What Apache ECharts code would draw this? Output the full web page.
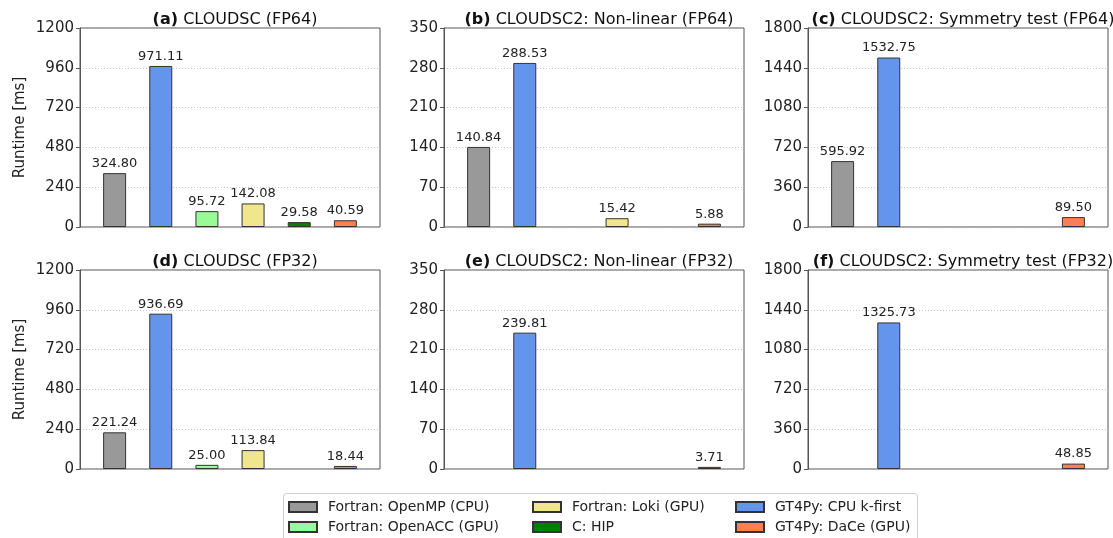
<!DOCTYPE html>
<html>
<head>
<meta charset="utf-8">
<script src="https://cdn.jsdelivr.net/npm/echarts@6/dist/echarts.min.js"></script>
<style>
html,body{margin:0;padding:0;background:#fff;}
#chart{width:1113px;height:538px;}
</style>
</head>
<body>
<div id="chart"></div>
<script>
// Methods in bar order (x positions 0..5)
const methods = ['Fortran: OpenMP (CPU)', 'GT4Py: CPU k-first', 'Fortran: OpenACC (GPU)', 'Fortran: Loki (GPU)', 'C: HIP', 'GT4Py: DaCe (GPU)'];
const methodColors = ['#999999', '#6495ED', '#98FB98', '#F0E68C', '#008000', '#FF7F50'];

// Runtime values [ms] per panel (null = no bar)
const cloudscFP64    = [324.80, 971.11, 95.72, 142.08, 29.58, 40.59];
const nonlinearFP64  = [140.84, 288.53, null, 15.42, null, 5.88];
const symmetryFP64   = [595.92, 1532.75, null, null, null, 89.50];
const cloudscFP32    = [221.24, 936.69, 25.00, 113.84, null, 18.44];
const nonlinearFP32  = [null, 239.81, null, null, null, 3.71];
const symmetryFP32   = [null, 1325.73, null, null, null, 48.85];

const panelTags   = ['(a)', '(b)', '(c)', '(d)', '(e)', '(f)'];
const panelTitles = ['CLOUDSC (FP64)', 'CLOUDSC2: Non-linear (FP64)', 'CLOUDSC2: Symmetry test (FP64)',
                     'CLOUDSC (FP32)', 'CLOUDSC2: Non-linear (FP32)', 'CLOUDSC2: Symmetry test (FP32)'];
const yMaxes     = [1200, 350, 1800, 1200, 350, 1800];
const yIntervals = [240, 70, 360, 240, 70, 360];
const yAxisName  = 'Runtime [ms]';

// Legend columns (column-major as in the reference)
const legendCols = [
  [methods[0], methods[2]],
  [methods[3], methods[4]],
  [methods[1], methods[5]]
];

const panels = [cloudscFP64, nonlinearFP64, symmetryFP64, cloudscFP32, nonlinearFP32, symmetryFP32];

const FONT = 'DejaVu Sans';
const gridLefts = [80, 444, 808];
const gridTops = [28, 270];
const GW = 300, GH = 199;

const grids = [], xAxes = [], yAxes = [], series = [], titles = [];
panels.forEach((vals, p) => {
  const col = p % 3, row = Math.floor(p / 3);
  grids.push({
    left: gridLefts[col], top: gridTops[row], width: GW, height: GH,
    show: true, borderColor: '#555', borderWidth: 1, backgroundColor: 'transparent'
  });
  xAxes.push({
    type: 'value', gridIndex: p, min: -0.75, max: 5.75,
    axisLine: {show: false}, axisTick: {show: false}, axisLabel: {show: false}, splitLine: {show: false}
  });
  yAxes.push({
    type: 'value', gridIndex: p, min: 0, max: yMaxes[p], interval: yIntervals[p],
    name: col === 0 ? yAxisName : '',
    nameLocation: 'middle', nameGap: 52,
    nameTextStyle: {fontFamily: FONT, fontSize: 15, color: '#222'},
    axisLine: {show: true, onZero: false, lineStyle: {color: '#555', width: 1}},
    axisTick: {show: true, length: 4, lineStyle: {color: '#555'}},
    axisLabel: {fontFamily: FONT, fontSize: 15, color: '#222', margin: 6, formatter: (v) => String(v)},
    splitLine: {show: true, lineStyle: {color: '#b8b8b8', type: [1, 2], width: 0.8}}
  });
  titles.push({
    text: '{b|' + panelTags[p] + '} ' + panelTitles[p],
    left: gridLefts[col] + GW / 2, top: gridTops[row] - 21, textAlign: 'center',
    textStyle: {fontFamily: FONT, fontSize: 16, fontWeight: 'normal', color: '#111',
      rich: {b: {fontFamily: FONT, fontSize: 16, fontWeight: 'bold', color: '#111'}}}
  });
  vals.forEach((v, i) => {
    series.push({
      type: 'bar', name: methods[i], xAxisIndex: p, yAxisIndex: p,
      barWidth: 23, barGap: '-100%',
      data: v === null ? [] : [[i, v]],
      itemStyle: {color: methodColors[i], borderColor: '#333', borderWidth: 1},
      label: {show: true, position: 'top', distance: 3, fontFamily: FONT, fontSize: 13, color: '#222',
        formatter: (d) => d.value[1].toFixed(2)},
      emphasis: {disabled: true},
      animation: false
    });
  });
});

const legendLefts = [288, 532, 735];
const legends = legendCols.map((names, c) => ({
  orient: 'vertical', left: legendLefts[c], top: 499, padding: 0, height: 40,
  data: names, itemWidth: 28, itemHeight: 10, itemGap: 4,
  icon: 'rect', selectedMode: false,
  textStyle: {fontFamily: FONT, fontSize: 14, color: '#222', lineHeight: 16, padding: [0, 0, 0, 6]}
}));

const chart = echarts.init(document.getElementById('chart'), null, {renderer: 'canvas'});
chart.setOption({
  animation: false,
  backgroundColor: '#fff',
  title: titles,
  grid: grids,
  xAxis: xAxes,
  yAxis: yAxes,
  legend: legends,
  series: series,
  graphic: [{
    type: 'rect', left: 283, top: 493, silent: true,
    shape: {width: 634, height: 50, r: 3},
    style: {fill: 'transparent', stroke: '#cccccc', lineWidth: 1}
  }]
});
</script>
</body>
</html>
